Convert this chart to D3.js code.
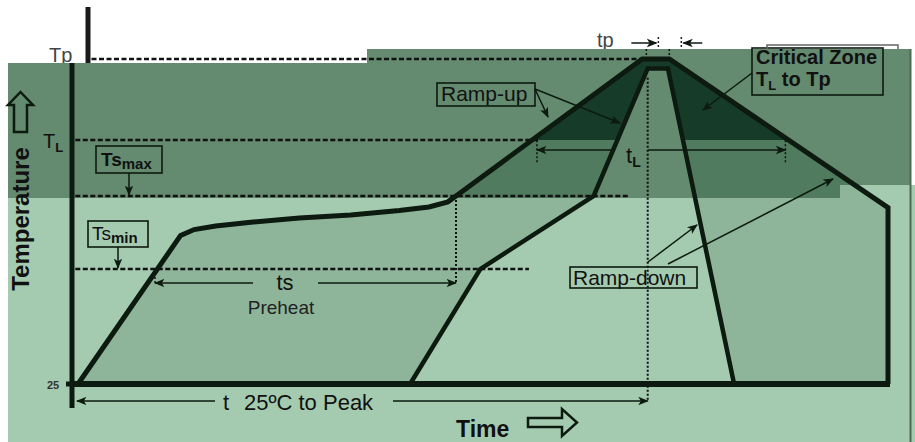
<!DOCTYPE html>
<html>
<head>
<meta charset="utf-8">
<script src="https://cdn.jsdelivr.net/npm/d3@7"></script>
<style>
  body { margin: 0; background: #fff; }
  svg { display: block; font-family: "Liberation Sans", Arial, sans-serif; }
</style>
</head>
<body>
<div id="chart"></div>
<script>
// temperature levels of the reflow profile (schematic, deg C)
const levelNames = ["25", "Tsmin", "Tsmax", "TL", "Tp"];
const levelTemps = [25, 150, 200, 217, 260];

// outer profile (slowest allowed), time in s
const outerTime = [0, 38, 43, 51, 64, 82, 101, 119, 130, 137, 140, 209, 219, 300, 300];
const outerTemp = [25, 173, 177, 179.5, 182, 185, 187, 190, 192.5, 196, 200, 260, 260, 192, 25];

// inner profile (fastest allowed)
const innerTime = [123, 149, 191, 211, 218.5, 243];
const innerTemp = [25, 150, 200, 255, 255, 25];

// dashed level guides: how far each runs (s)
const guideLevel = [260, 217, 200, 150];
const guideStart = [5, -1, -1, -1];
const guideEnd = [209, 171, 204, 167];

// time spans marked with arrows
const spanNames = ["ts", "tL", "t25"];
const spanStart = [28.5, 170, 0];
const spanEnd = [140, 262, 211];
const tpStart = 210.5, tpEnd = 219;

var W = 915, H = 442;
var ink = "#0c1a0f";

var svg = d3.select("#chart").append("svg")
  .attr("width", W).attr("height", H);

var x = d3.scaleLinear().domain([0, 300]).range([78, 888]);
var y = d3.scaleLinear().domain(levelTemps).range([384, 269, 196, 140, 59]);

var outer = d3.zip(outerTime, outerTemp);
var inner = d3.zip(innerTime, innerTemp);
var line = d3.line().x(d => x(d[0])).y(d => y(d[1]));

var defs = svg.append("defs");
defs.append("marker")
  .attr("id", "ah")
  .attr("viewBox", "0 0 10 10")
  .attr("refX", 9).attr("refY", 5)
  .attr("markerWidth", 7).attr("markerHeight", 7)
  .attr("orient", "auto-start-reverse")
  .append("path")
    .attr("d", "M0,1 L10,5 L0,9 L2.5,5 Z")
    .attr("fill", ink);

// the darker band behind the upper part
var bandPts = [[8,63],[367,63],[367,49],[910,49],[910,185],[840,185],[840,198],[8,198]];
defs.append("clipPath").attr("id", "bandClip")
  .append("polygon").attr("points", bandPts.join(" "));
defs.append("clipPath").attr("id", "critClip")
  .append("rect").attr("x", 0).attr("y", 0).attr("width", W).attr("height", y(217));

// text that sits under the band edge
svg.append("text").attr("x", 49).attr("y", 62)
  .attr("font-size", 20).attr("fill", "#444").text("Tp");
svg.append("text").attr("x", 597).attr("y", 47)
  .attr("font-size", 20).attr("fill", "#444").text("tp");

svg.append("rect")
  .attr("x", 8).attr("y", 185).attr("width", W - 8).attr("height", H - 185)
  .attr("fill", "#a4cbb0");
svg.append("polygon")
  .attr("points", bandPts.join(" "))
  .attr("fill", "#648a6f");
svg.append("line")
  .attr("x1", 910.5).attr("x2", 910.5).attr("y1", 49).attr("y2", H)
  .attr("stroke", "#4c6b57").attr("stroke-width", 2);

// process window between the two profiles
var ring = line(outer) + "Z" + line(inner) + "Z";
svg.append("path").attr("d", ring)
  .attr("fill-rule", "evenodd").attr("fill", "#8eb59a");
svg.append("path").attr("d", ring)
  .attr("fill-rule", "evenodd").attr("fill", "#517b5f")
  .attr("clip-path", "url(#bandClip)");
svg.append("path").attr("d", ring)
  .attr("fill-rule", "evenodd").attr("fill", "#163c29")
  .attr("clip-path", "url(#critClip)");

// level guides
svg.selectAll(".guide")
  .data(guideLevel)
  .enter()
  .append("line")
    .attr("class", "guide")
    .attr("x1", (d, i) => x(guideStart[i]))
    .attr("x2", (d, i) => x(guideEnd[i]))
    .attr("y1", d => y(d))
    .attr("y2", d => y(d))
    .attr("stroke", "#111")
    .attr("stroke-width", 2.5)
    .attr("stroke-dasharray", "5,2.5");

// dotted verticals
function vdot(t, T1, T2, sw) {
  svg.append("line")
    .attr("x1", x(t)).attr("x2", x(t))
    .attr("y1", y(T1)).attr("y2", y(T2))
    .attr("stroke", "#111").attr("stroke-width", sw || 2)
    .attr("stroke-dasharray", "2,2");
}
vdot(211, 250, 8);
vdot(140, 200, 135);
vdot(28.5, 150, 135, 1.5);
vdot(spanStart[1], 219, 210, 1.5);
vdot(spanEnd[1], 219, 210, 1.5);
vdot(tpStart, 260, 266, 1.5);
vdot(tpEnd, 260, 266, 1.5);

// the profiles
svg.append("path").attr("d", line(outer))
  .attr("fill", "none").attr("stroke", ink).attr("stroke-width", 5);
svg.append("path").attr("d", line(inner))
  .attr("fill", "none").attr("stroke", ink).attr("stroke-width", 4.5);

// axes
svg.append("line")
  .attr("x1", 72).attr("x2", x(300) + 2).attr("y1", y(25)).attr("y2", y(25))
  .attr("stroke", ink).attr("stroke-width", 6);
svg.append("line")
  .attr("x1", 72).attr("x2", 72).attr("y1", 63).attr("y2", 408)
  .attr("stroke", ink).attr("stroke-width", 5);
svg.append("line")
  .attr("x1", 88).attr("x2", 88).attr("y1", 7).attr("y2", 63)
  .attr("stroke", "#1a1a1a").attr("stroke-width", 5);
svg.append("line")
  .attr("x1", 66).attr("x2", 72).attr("y1", y(25)).attr("y2", y(25))
  .attr("stroke", ink).attr("stroke-width", 5);

svg.append("text").attr("x", 47).attr("y", y(25) + 5)
  .attr("font-size", 11).attr("font-weight", "bold").attr("fill", "#333")
  .text(levelNames[0]);

var tl = svg.append("text").attr("x", 43).attr("y", y(217) + 8)
  .attr("font-size", 20).attr("fill", "#111");
tl.append("tspan").text("T");
tl.append("tspan").attr("font-size", 13).attr("font-weight", "bold").attr("dy", 4).text("L");

// arrows
function arrow(x1, y1, x2, y2, both, sw) {
  var l = svg.append("line")
    .attr("x1", x1).attr("y1", y1).attr("x2", x2).attr("y2", y2)
    .attr("stroke", ink).attr("stroke-width", sw || 1.5)
    .attr("marker-end", "url(#ah)");
  if (both) l.attr("marker-start", "url(#ah)");
  return l;
}
function startArrow(x1, y1, x2, y2) {
  svg.append("line")
    .attr("x1", x1).attr("y1", y1).attr("x2", x2).attr("y2", y2)
    .attr("stroke", ink).attr("stroke-width", 1.5)
    .attr("marker-start", "url(#ah)");
}

// ts span
var yTs = 283;
startArrow(x(spanStart[0]), yTs, 253, yTs);
arrow(318, yTs, x(spanEnd[0]), yTs);
svg.append("text").attr("x", 285).attr("y", 290)
  .attr("text-anchor", "middle").attr("font-size", 22).attr("fill", "#111").text("ts");
svg.append("text").attr("x", 281).attr("y", 314)
  .attr("text-anchor", "middle").attr("font-size", 19).attr("fill", "#222").text("Preheat");

// tL span
var yTl = 150;
startArrow(x(spanStart[1]), yTl, 611, yTl);
arrow(648, yTl, x(spanEnd[1]), yTl);
var tlt = svg.append("text").attr("x", 626).attr("y", 163)
  .attr("font-size", 22).attr("fill", "#111");
tlt.append("tspan").text("t");
tlt.append("tspan").attr("font-size", 14).attr("font-weight", "bold").attr("dy", 4).text("L");

// 25C to peak span
var yPk = 401;
startArrow(x(spanStart[2]) - 1, yPk, 215, yPk);
arrow(393, yPk, x(spanEnd[2]), yPk);
svg.append("text").attr("x", 223).attr("y", 410)
  .attr("font-size", 22).attr("fill", "#111").text("t");
svg.append("text").attr("x", 244).attr("y", 410)
  .attr("font-size", 22).attr("fill", "#111").text("25ºC to Peak");

// tp arrows
arrow(x(tpStart) - 15, 43, x(tpStart) + 10, 43);
arrow(x(tpEnd) + 33, 43, x(tpEnd) + 14, 43);
svg.append("line").attr("x1", x(tpStart) + 12).attr("x2", x(tpStart) + 12)
  .attr("y1", 37).attr("y2", 49).attr("stroke", "#222").attr("stroke-width", 1.5)
  .attr("stroke-dasharray", "2,2");
svg.append("line").attr("x1", x(tpEnd) + 12).attr("x2", x(tpEnd) + 12)
  .attr("y1", 37).attr("y2", 49).attr("stroke", "#222").attr("stroke-width", 1.5)
  .attr("stroke-dasharray", "2,2");

// boxed labels
function box(x0, y0, w, h) {
  svg.append("rect").attr("x", x0).attr("y", y0).attr("width", w).attr("height", h)
    .attr("fill", "none").attr("stroke", ink).attr("stroke-width", 1.6);
}

box(96, 146, 66, 27);
var tsx = svg.append("text").attr("x", 101).attr("y", 166)
  .attr("font-size", 19).attr("font-weight", "bold").attr("fill", "#111");
tsx.append("tspan").text("Ts");
tsx.append("tspan").attr("font-size", 15).attr("dy", 3).text("max");
arrow(129, 173, 129, y(200) - 1);

box(88, 221, 60, 26);
var tsn = svg.append("text").attr("x", 92).attr("y", 240)
  .attr("font-size", 19).attr("fill", "#111");
tsn.append("tspan").text("Ts");
tsn.append("tspan").attr("font-size", 15).attr("font-weight", "bold").attr("dy", 3).text("min");
arrow(118, 247, 118, y(150) - 1);

box(437, 83, 98, 23);
svg.append("text").attr("x", 441).attr("y", 101)
  .attr("font-size", 21).attr("fill", "#111").text("Ramp-up");
arrow(535, 89, 548, 117);
arrow(535, 89, 620, 123);

box(570, 267, 127, 21);
svg.append("text").attr("x", 573).attr("y", 285)
  .attr("font-size", 21).attr("fill", "#111").text("Ramp-down");
arrow(648, 262, 697, 225);
arrow(668, 264, 833, 179);

box(752, 48, 131, 47);
svg.append("path").attr("d", "M767,49 L767,45 L898,45 L898,49")
  .attr("fill", "none").attr("stroke", "#666").attr("stroke-width", 1.5);
svg.append("text").attr("x", 756).attr("y", 64)
  .attr("font-size", 20).attr("font-weight", "bold").attr("fill", "#111").text("Critical Zone");
var cz = svg.append("text").attr("x", 756).attr("y", 86)
  .attr("font-size", 20).attr("font-weight", "bold").attr("fill", "#111");
cz.append("tspan").text("T");
cz.append("tspan").attr("font-size", 13).attr("dy", 4).text("L");
cz.append("tspan").attr("dy", -4).text(" to Tp");
arrow(752, 73, 703, 110);

// axis titles
svg.append("text").attr("x", 456).attr("y", 437)
  .attr("font-size", 23).attr("font-weight", "bold").attr("fill", "#111").text("Time");
svg.append("path")
  .attr("d", "M528,418 L562,418 L562,409 L577,422.5 L562,436 L562,427 L528,427 Z")
  .attr("fill", "none").attr("stroke", ink).attr("stroke-width", 2.5);

svg.append("text")
  .attr("transform", "translate(29,219) rotate(-90)")
  .attr("text-anchor", "middle")
  .attr("font-size", 24).attr("font-weight", "bold").attr("fill", "#111")
  .text("Temperature");
svg.append("path")
  .attr("d", "M20.5,92 L33,105 L27,105 L27,132 L14,132 L14,105 L8,105 Z")
  .attr("fill", "none").attr("stroke", ink).attr("stroke-width", 2.5);
</script>
</body>
</html>
